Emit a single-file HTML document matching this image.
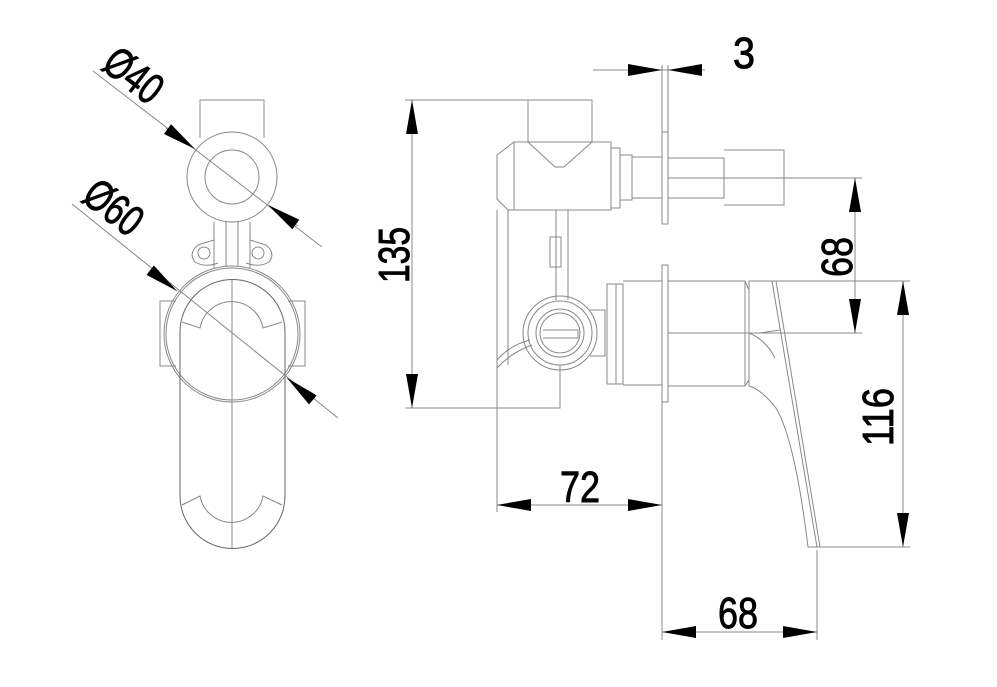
<!DOCTYPE html>
<html><head><style>html,body{margin:0;padding:0;background:#fff}svg{display:block}
text{font-family:"Liberation Sans",sans-serif;font-size:44px;fill:#000;stroke:#000;stroke-width:0.9}</style></head>
<body>
<svg width="997" height="687" viewBox="0 0 997 687" xmlns="http://www.w3.org/2000/svg">
<defs>
<marker id="a" viewBox="0 0 34 12" refX="34" refY="6" markerWidth="34" markerHeight="12" markerUnits="userSpaceOnUse" orient="auto-start-reverse"><path d="M0,0 L34,6 L0,12 Z" fill="#000"/></marker>
</defs>
<g fill="none" stroke="#888" stroke-width="1">
<path d="M200,138 V100 H264 V138"/>
<circle cx="232" cy="177" r="45"/>
<circle cx="232" cy="177" r="27"/>
<path d="M214,222 V268 M250,222 V268 M226,222 V266 M238,222 V266"/>
<path d="M214,240 L198,245 Q188,253 195,262 Q205,268 218,263 M250,240 L266,245 Q276,253 269,262 Q259,268 246,263"/>
<circle cx="204" cy="253" r="6"/><circle cx="258" cy="253" r="6"/>
<circle cx="232" cy="334" r="68"/>
<circle cx="232" cy="334" r="66"/>
<path d="M176,301 H160 V366 H176 M288,301 H305 V366 H288"/>
<path d="M180,332 A52.5,52.5 0 0 1 285,332 V496 A52.5,52.5 0 0 1 180,496 Z" stroke="#666"/>
<path d="M232,280 V548"/>
<path d="M182,322 L200,328 A32,32 0 0 1 263,328 L282,322"/>
<path d="M182,505 L200,496 A32,32 0 0 0 263,496 L282,505"/>
<path d="M93,71 L322,247 M72,204 L338,418"/>
<path d="M528,142 V100 H592 V142"/>
<path d="M528,142 L555,167 L564,167 L592,142"/>
<path d="M514,142 H611 V210 H508 L497,199 V155 Z"/>
<path d="M514,142 V210"/>
<path d="M611,148 H620 V208 H611 M620,155 H632 V200 H620 M632,157 H662 V198 H632"/>
<path d="M662,132 H668 V224 H662 Z"/>
<path d="M668,158 H724 V198 H668 M724,150 H784 V205 H724"/>
<path d="M668,178 H862"/>
<path d="M508,210 V365 M497,210 V408 H560 V365"/>
<path d="M556,210 V300 M568,210 V300"/>
<rect x="550" y="237" width="11" height="30"/>
<circle cx="560" cy="333" r="37"/>
<circle cx="560" cy="333" r="32"/>
<circle cx="560" cy="333" r="24"/>
<circle cx="560" cy="333" r="20"/>
<path d="M543,330 H578 V338 H543"/>
<path d="M497,360 Q510,345 530,340 M497,368 Q512,352 532,345"/>
<path d="M590,310 H605 V356 H590"/>
<path d="M607,284 H616 V384 H607 Z M616,284 H623 V384 H616 M623,281 H662 V385 H623"/>
<path d="M662,265 H668 V402 H662 Z"/>
<path d="M668,281 H745 V386 H668 M745,281 L749,290 V380 L745,386"/>
<path d="M668,333 H745"/>
<path d="M749,281 H772 L817,547 H808 Q795,440 776,408 Q762,390 749,386 Z"/>
<path d="M776,281 L820,547"/>
<path d="M749,333 Q766,340 775,358 M760,333 L780,330"/>
<path d="M593,70 H705 M662,65 V132 M668,65 V132"/>
<path d="M405,100 H592 M405,408 H497"/>
<path d="M784,178 H862 M745,333 H862"/>
<path d="M772,281 H910 M817,547 H910"/>
<path d="M497,408 V512 M662,402 V640 M817,550 V640"/>
</g>
<g stroke="#888" stroke-width="1" fill="none">
<line x1="166" y1="128" x2="195" y2="149" marker-end="url(#a)"/>
<line x1="298" y1="226" x2="268" y2="205" marker-end="url(#a)"/>
<line x1="150" y1="270" x2="177" y2="291" marker-end="url(#a)"/>
<line x1="313" y1="400" x2="287" y2="378" marker-end="url(#a)"/>
<line x1="626" y1="70" x2="662" y2="70" marker-end="url(#a)"/>
<line x1="705" y1="70" x2="668" y2="70" marker-end="url(#a)"/>
<line x1="412" y1="100" x2="412" y2="408" marker-start="url(#a)" marker-end="url(#a)"/>
<line x1="855" y1="178" x2="855" y2="333" marker-start="url(#a)" marker-end="url(#a)"/>
<line x1="903" y1="281" x2="903" y2="547" marker-start="url(#a)" marker-end="url(#a)"/>
<line x1="497" y1="505" x2="662" y2="505" marker-start="url(#a)" marker-end="url(#a)"/>
<line x1="662" y1="632" x2="817" y2="632" marker-start="url(#a)" marker-end="url(#a)"/>
</g>
<text x="733" y="68" textLength="22" lengthAdjust="spacingAndGlyphs">3</text>
<text x="560" y="502" textLength="40" lengthAdjust="spacingAndGlyphs">72</text>
<text x="718" y="628" textLength="40" lengthAdjust="spacingAndGlyphs">68</text>
<text transform="translate(409,283) rotate(-90)" textLength="56" lengthAdjust="spacingAndGlyphs">135</text>
<text transform="translate(852,277) rotate(-90)" textLength="40" lengthAdjust="spacingAndGlyphs">68</text>
<text transform="translate(893,446) rotate(-90)" textLength="58" lengthAdjust="spacingAndGlyphs">116</text>
<text transform="translate(100,68) rotate(38)" textLength="62" lengthAdjust="spacingAndGlyphs">Ø40</text>
<text transform="translate(80,200) rotate(38)" textLength="62" lengthAdjust="spacingAndGlyphs">Ø60</text>
</svg>
</body></html>
